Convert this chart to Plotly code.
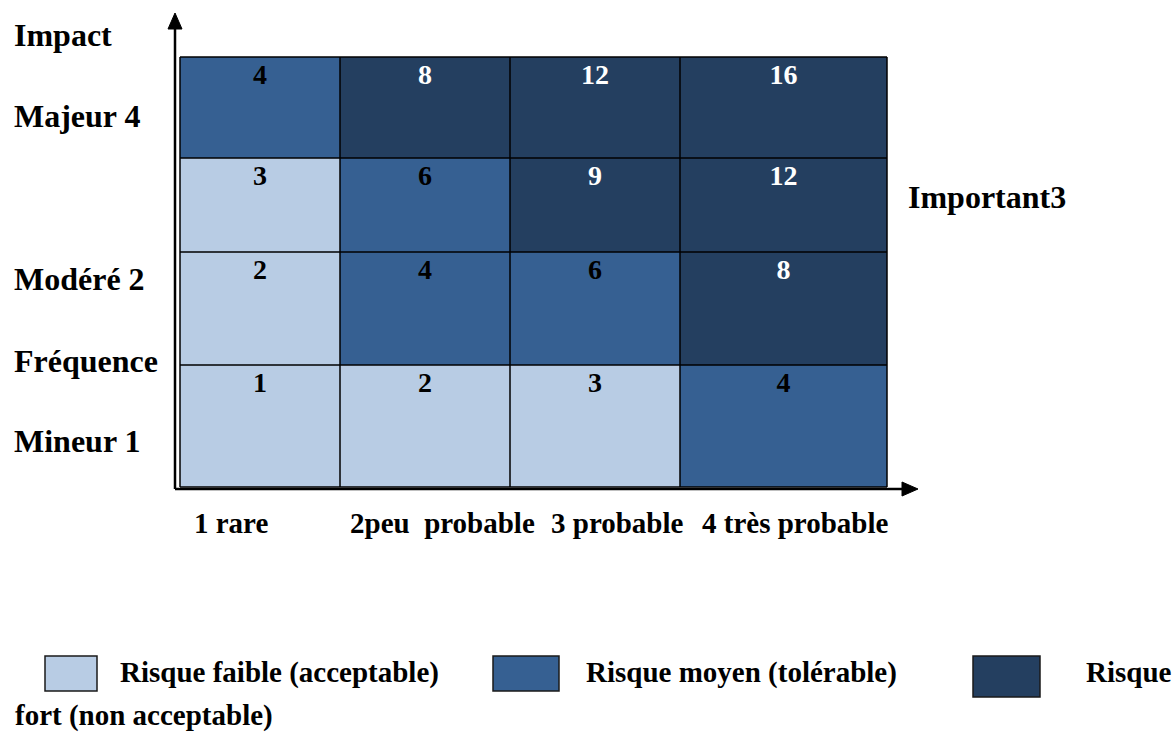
import plotly.graph_objects as go

# Risk matrix: frequency (columns) x impact (rows, listed from top = Majeur to bottom = Mineur)
frequency_labels = ["1 rare", "2peu\u00a0 probable", "3 probable", "4 très probable"]
impact_labels = ["Majeur 4", "Important3", "Modéré 2", "Mineur 1"]
scores = [
    [4, 8, 12, 16],
    [3, 6, 9, 12],
    [2, 4, 6, 8],
    [1, 2, 3, 4],
]
# risk class per cell: 0 = faible, 1 = moyen, 2 = fort
risk_class = [
    [1, 2, 2, 2],
    [0, 1, 2, 2],
    [0, 1, 1, 2],
    [0, 0, 0, 1],
]
class_names = ["Risque faible (acceptable)", "Risque moyen (tolérable)", "Risque fort (non acceptable)"]
class_colors = ["#B8CCE4", "#366092", "#243F60"]

# page geometry (axis units = pixels, y downward)
W, H = 1175, 743
col_edges = [180, 340, 510, 680, 887]
row_edges = [57, 158, 252, 365, 487]
FONT = "'Liberation Serif', 'Times New Roman', Times, 'DejaVu Serif', serif"

fig = go.Figure()

cs = []
n = len(class_colors)
for i, c in enumerate(class_colors):
    cs.append([i / n, c])
    cs.append([(i + 1) / n, c])

fig.add_trace(go.Heatmap(
    x=col_edges, y=row_edges, z=risk_class,
    colorscale=cs, zmin=-0.5, zmax=n - 0.5, showscale=False, hoverinfo="skip",
))

# cell scores, at the top of each cell
tx, ty, tt, tc = [], [], [], []
for r, row in enumerate(scores):
    for c, v in enumerate(row):
        tx.append((col_edges[c] + col_edges[c + 1]) / 2)
        ty.append(row_edges[r] + 20)
        tt.append(str(v))
        tc.append("white" if risk_class[r][c] == 2 else "black")
fig.add_trace(go.Scatter(
    x=tx, y=ty, text=tt, mode="text", hoverinfo="skip",
    textfont=dict(family=FONT, size=28, color=tc, weight="bold"),
))

shapes = []
# grid lines
for x in col_edges:
    shapes.append(dict(type="line", x0=x, x1=x, y0=row_edges[0], y1=row_edges[-1],
                       line=dict(color="black", width=1.5)))
for y in row_edges:
    shapes.append(dict(type="line", x0=col_edges[0], x1=col_edges[-1], y0=y, y1=y,
                       line=dict(color="black", width=1.5)))
# axes with arrow heads
ox, oy = 175, 489
shapes.append(dict(type="line", x0=ox, x1=ox, y0=oy, y1=26, line=dict(color="black", width=2.5)))
shapes.append(dict(type="path", path=f"M {ox-7} 29 L {ox+7} 29 L {ox} 13 Z",
                   fillcolor="black", line=dict(color="black", width=1)))
shapes.append(dict(type="line", x0=ox, x1=905, y0=oy, y1=oy, line=dict(color="black", width=2.5)))
shapes.append(dict(type="path", path=f"M 902 {oy-7} L 902 {oy+7} L 918 {oy} Z",
                   fillcolor="black", line=dict(color="black", width=1)))
# legend swatches
swatches = [(45, 97, 656, 691), (493, 559, 656, 691), (973, 1040, 656, 697)]
for (x0, x1, y0, y1), col in zip(swatches, class_colors):
    shapes.append(dict(type="rect", x0=x0, x1=x1, y0=y0, y1=y1, fillcolor=col,
                       line=dict(color="#1a1a1a", width=1.5)))

annotations = []


def label(text, x, y, anchor="left", size=32):
    annotations.append(dict(text=f"<b>{text}</b>", x=x, y=y, xref="x", yref="y",
                            xanchor=anchor, yanchor="middle", showarrow=False,
                            font=dict(family=FONT, size=size, color="black")))


label("Impact", 12, 35)
label("Fréquence", 12, 361)
left_rows = {"Majeur 4": 116, "Modéré 2": 279, "Mineur 1": 441}
for name in impact_labels:
    if name in left_rows:
        label(name, 12, left_rows[name])
label(impact_labels[1], 906, 197)

xs = [192, 348, 549, 700]
for i, name in enumerate(frequency_labels):
    label(name, xs[i], 523, size=29)

label(class_names[0], 118, 672, size=29)
label(class_names[1], 584, 672, size=29)
fort = class_names[2].split(" ", 1)
label(fort[0], 1084, 672, size=29)
label(fort[1], 13, 715, size=29)

fig.update_layout(
    width=W, height=H, margin=dict(l=0, r=0, t=0, b=0),
    paper_bgcolor="white", plot_bgcolor="white", showlegend=False,
    xaxis=dict(range=[0, W], visible=False, fixedrange=True),
    yaxis=dict(range=[H, 0], visible=False, fixedrange=True),
    shapes=shapes, annotations=annotations,
)

fig.write_html("out.html")
